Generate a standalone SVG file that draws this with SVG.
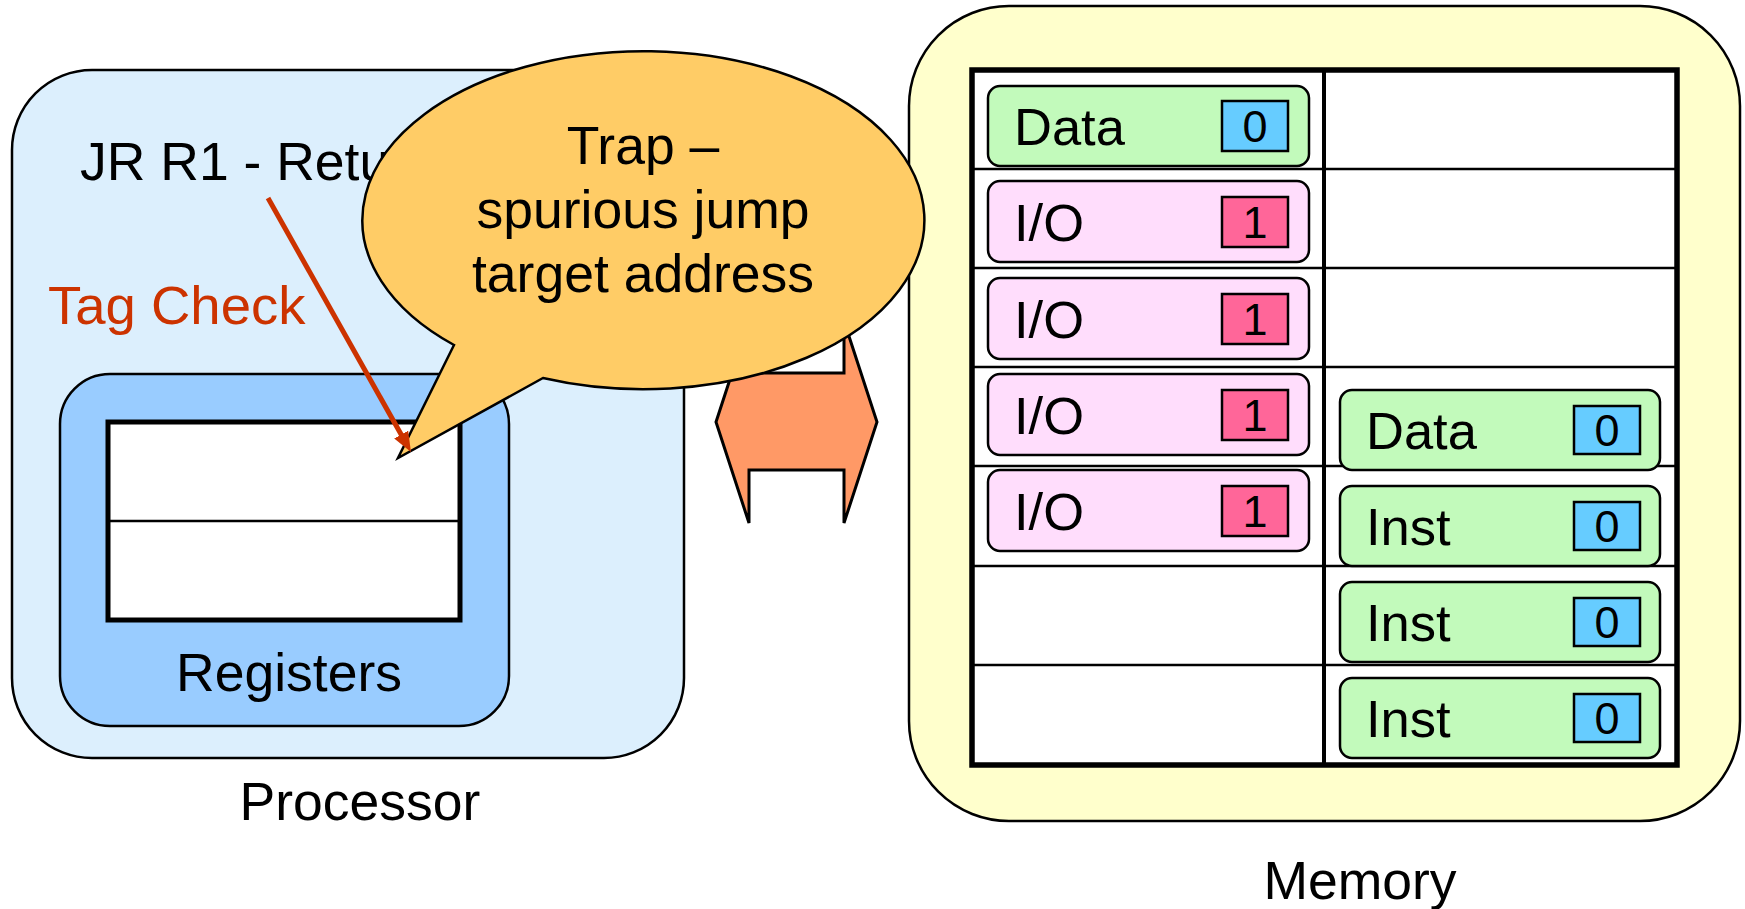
<svg xmlns="http://www.w3.org/2000/svg" width="1745" height="909" viewBox="0 0 1745 909">
<defs>
<style>
text{font-family:"Liberation Sans",Arial,sans-serif;font-size:53.5px;fill:#000}
.cell{font-size:52.5px}
.tag{font-size:45px;text-anchor:middle}
.ctr{text-anchor:middle}
.green{fill:#C2FABB;stroke:#000;stroke-width:2.5}
.pink{fill:#FFDDFC;stroke:#000;stroke-width:2.5}
.tb{fill:#66CCFF;stroke:#000;stroke-width:2.5}
.tp{fill:#FF6699;stroke:#000;stroke-width:2.5}
.ln{stroke:#000;stroke-width:2.5;fill:none}
</style>
<marker id="ah" viewBox="0 0 20 16" refX="6" refY="8" markerWidth="20" markerHeight="16" orient="auto" markerUnits="userSpaceOnUse">
<path d="M0,0 L20,8 L0,16 z" fill="#CC3300"/>
</marker>
</defs>
<rect width="1745" height="909" fill="#fff"/>

<g id="processor">
<rect x="12" y="70" width="672" height="688" rx="80" ry="80" fill="#DCEFFD" stroke="#000" stroke-width="2.5"/>
<text x="80" y="180">JR R1 - Return</text>
<text x="48" y="324" style="fill:#CC3300;font-size:54.5px">Tag Check</text>
<text class="ctr" x="360" y="820">Processor</text>
</g>

<g id="registers">
<rect x="60" y="374" width="449" height="352" rx="50" ry="50" fill="#99CCFF" stroke="#000" stroke-width="2.5"/>
<rect x="108" y="422" width="352" height="198" fill="#fff" stroke="#000" stroke-width="5"/>
<line x1="108" y1="521" x2="460" y2="521" class="ln"/>
<text class="ctr" x="289" y="691">Registers</text>
</g>

<g id="memory">
<rect x="909" y="6" width="831" height="815" rx="100" ry="100" fill="#FFFFCC" stroke="#000" stroke-width="2.5"/>
<rect x="972" y="70" width="705" height="695" fill="#fff" stroke="#000" stroke-width="5.5"/>
<line x1="1324" y1="70" x2="1324" y2="765" stroke="#000" stroke-width="4"/>
<path class="ln" d="M972,169H1677M972,268H1677M972,367H1677M972,466H1677M972,566H1677M972,665H1677"/>
<text class="ctr" x="1360" y="899">Memory</text>
</g>

<g id="mem-left">
<g id="cell-l1"><rect class="green" x="988" y="86" width="321" height="80" rx="12"/><text class="cell" x="1014" y="145">Data</text><rect class="tb" x="1222" y="101" width="66" height="50"/><text class="tag" x="1255" y="142">0</text></g>
<g id="cell-l2"><rect class="pink" x="988" y="181" width="321" height="81" rx="12"/><text class="cell" x="1014" y="241">I/O</text><rect class="tp" x="1222" y="197" width="66" height="50"/><text class="tag" x="1255" y="238">1</text></g>
<g id="cell-l3"><rect class="pink" x="988" y="278" width="321" height="81" rx="12"/><text class="cell" x="1014" y="338">I/O</text><rect class="tp" x="1222" y="294" width="66" height="50"/><text class="tag" x="1255" y="335">1</text></g>
<g id="cell-l4"><rect class="pink" x="988" y="374" width="321" height="81" rx="12"/><text class="cell" x="1014" y="434">I/O</text><rect class="tp" x="1222" y="390" width="66" height="50"/><text class="tag" x="1255" y="431">1</text></g>
<g id="cell-l5"><rect class="pink" x="988" y="470" width="321" height="81" rx="12"/><text class="cell" x="1014" y="530">I/O</text><rect class="tp" x="1222" y="486" width="66" height="50"/><text class="tag" x="1255" y="527">1</text></g>
</g>

<g id="mem-right">
<g id="cell-r1"><rect class="green" x="1340" y="390" width="320" height="80" rx="12"/><text class="cell" x="1366" y="449">Data</text><rect class="tb" x="1574" y="406" width="66" height="48"/><text class="tag" x="1607" y="446">0</text></g>
<g id="cell-r2"><rect class="green" x="1340" y="486" width="320" height="80" rx="12"/><text class="cell" x="1366" y="545">Inst</text><rect class="tb" x="1574" y="502" width="66" height="48"/><text class="tag" x="1607" y="542">0</text></g>
<g id="cell-r3"><rect class="green" x="1340" y="582" width="320" height="80" rx="12"/><text class="cell" x="1366" y="641">Inst</text><rect class="tb" x="1574" y="598" width="66" height="48"/><text class="tag" x="1607" y="638">0</text></g>
<g id="cell-r4"><rect class="green" x="1340" y="678" width="320" height="80" rx="12"/><text class="cell" x="1366" y="737">Inst</text><rect class="tb" x="1574" y="694" width="66" height="48"/><text class="tag" x="1607" y="734">0</text></g>
</g>

<g id="bus">
<polygon points="716,422 749,321 749,373 844,373 844,321 877,422 844,523 844,470 749,470 749,523" fill="#FF9966" stroke="#000" stroke-width="3" stroke-linejoin="miter"/>
</g>

<g id="callout">
<path d="M454,345 L398,458 L543,378 A281 169 0 1 0 454,345 Z" fill="#FFCC66" stroke="#000" stroke-width="2.5"/>
<text class="ctr" x="643" y="164">Trap –</text>
<text class="ctr" x="643" y="228">spurious jump</text>
<text class="ctr" x="643" y="292">target address</text>
</g>

<g id="connectors">
<line x1="268" y1="198" x2="404.1" y2="439.8" stroke="#CC3300" stroke-width="5" marker-end="url(#ah)"/>
</g>
</svg>
